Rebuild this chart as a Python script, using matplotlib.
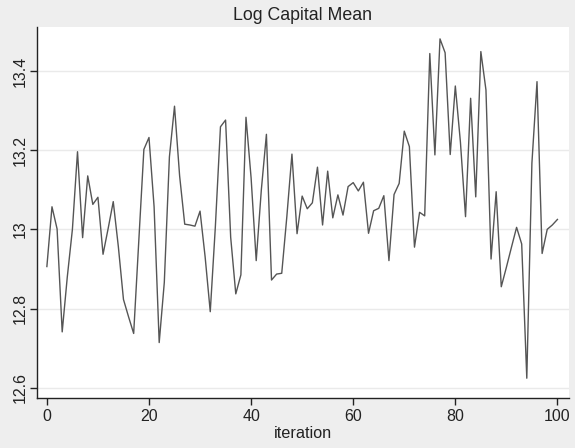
import matplotlib
matplotlib.use("Agg")
import matplotlib.pyplot as plt

# iteration index and the log capital mean at each step
iteration = list(range(101))
log_capital_mean = [
    12.906, 13.057, 13.001, 12.741, 12.88, 13.0, 13.196, 12.979, 13.135, 13.063,
    13.081, 12.937, 13.002, 13.07, 12.956, 12.823, 12.779, 12.737, 12.97, 13.202,
    13.232, 13.057, 12.714, 12.866, 13.183, 13.311, 13.135, 13.013, 13.011, 13.008,
    13.046, 12.93, 12.792, 13.007, 13.259, 13.276, 12.98, 12.837, 12.885, 13.283,
    13.13, 12.921, 13.099, 13.24, 12.872, 12.887, 12.889, 13.032, 13.19, 12.989,
    13.084, 13.052, 13.067, 13.157, 13.011, 13.147, 13.029, 13.087, 13.036, 13.108,
    13.118, 13.097, 13.119, 12.99, 13.047, 13.053, 13.085, 12.921, 13.088, 13.116,
    13.248, 13.209, 12.955, 13.043, 13.034, 13.444, 13.188, 13.481, 13.446, 13.189,
    13.362, 13.22, 13.032, 13.331, 13.082, 13.449, 13.352, 12.925, 13.095, 12.855,
    12.904, 12.955, 13.005, 12.963, 12.624, 13.167, 13.373, 12.939, 13.0, 13.011,
    13.025,
]
yticks = [12.6, 12.8, 13.0, 13.2, 13.4]
ytick_labels = ["12.6", "12.8", "13", "13.2", "13.4"]
xticks = [0, 20, 40, 60, 80, 100]

plt.rcParams["font.family"] = ["Liberation Sans", "DejaVu Sans"]

fig = plt.figure(figsize=(5.75, 4.48), dpi=100, facecolor="#eeeeee")
ax = fig.add_axes([0.0643, 0.1116, 0.9253, 0.8281])
ax.set_facecolor("white")

ax.plot(iteration, log_capital_mean, color="#555555", linewidth=1.0)

ax.set_xlim(-1.94, 102.27)
ax.set_ylim(12.574, 13.511)
ax.set_yticks(yticks)
ax.set_yticklabels(ytick_labels, rotation=90, va="center")
ax.set_xticks(xticks)
ax.grid(axis="y", color="#eaeaea", linewidth=1.0)
ax.set_axisbelow(True)

for side in ["top", "right"]:
    ax.spines[side].set_visible(False)
for side in ["left", "bottom"]:
    ax.spines[side].set_color("#222222")
    ax.spines[side].set_linewidth(1.0)

ax.tick_params(axis="both", colors="#222222", labelsize=11.5, length=5, width=1.0, pad=3)
ax.tick_params(axis="y", pad=2)
ax.set_xlabel("iteration", fontsize=11.7, color="#222222", labelpad=1)
ax.set_title("Log Capital Mean", fontsize=12.8, color="#222222", pad=5)

fig.savefig("out.png", dpi=100, facecolor=fig.get_facecolor())
